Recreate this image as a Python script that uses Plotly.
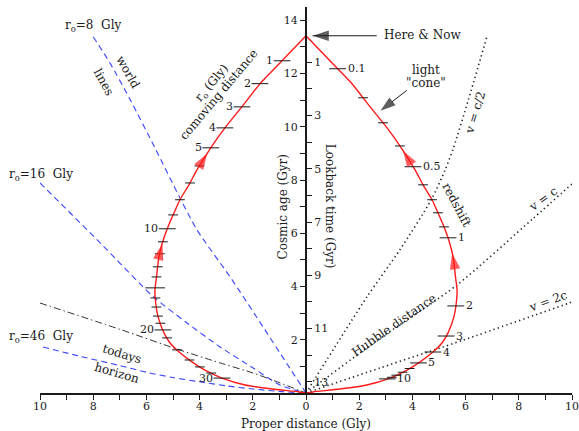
import numpy as np
import plotly.graph_objects as go

NOW_AGE = 13.42  # cosmic age of "Here & Now" (Gyr)

# ---- past light cone: proper distance (Gly) vs cosmic age (Gyr) ----
lc_age = [13.42, 12.48, 11.62, 10.75, 9.96, 9.21, 8.38, 7.82, 7.26, 6.77, 6.24, 5.83,
          5.11, 4.36, 3.87, 3.38, 2.86, 2.26, 1.88, 1.54, 1.17, 0.86, 0.56, 0.30, 0.15, 0.04, 0.0]
lc_dist = [0.0, 0.90, 1.73, 2.41, 3.05, 3.58, 4.10, 4.40, 4.74, 4.96, 5.19, 5.34,
           5.53, 5.62, 5.68, 5.65, 5.56, 5.34, 5.11, 4.77, 4.29, 3.80, 3.16, 2.29, 1.28, 0.26, 0.0]

# redshift ticks (right branch)
z_labels = ["0.1", "0.5", "1", "2", "3", "4", "5", "10"]
z_ages = [12.18, 8.50, 5.83, 3.27, 2.14, 1.54, 1.13, 0.53]
z_minor_ages = [11.09, 10.15, 9.28, 7.82, 7.26, 6.77, 6.24, 0.92, 0.78, 0.67, 0.59]

# comoving distance ticks (left branch)
rc_labels = ["1", "2", "3", "4", "5", "10", "20", "30"]
rc_ages = [12.48, 11.62, 10.75, 9.96, 9.21, 6.17, 2.37, 0.56]
rc_long_ages = [3.95]
rc_minor_ages = [8.53, 7.89, 7.26, 6.69, 5.68, 5.23, 4.74, 4.36, 3.57, 3.23, 2.89, 2.62,
                 2.07, 1.62, 1.24, 0.98, 0.75]

# direction arrows on the light cone (ages of arrow tips)
arrow_ages_right = [9.10, 5.25]
arrow_ages_left = [9.00, 5.60]

# ---- world lines (left, proper distance shown negative side) ----
wl8_dist = [8.0, 7.37, 6.6, 5.68, 4.74, 4.10, 2.86, 1.62, 0.73, 0.0]
wl8_age = [13.38, 12.4, 11.0, 9.21, 7.33, 6.13, 4.37, 2.49, 1.12, 0.0]
wl16_dist = [10.0, 7.74, 5.74, 4.47, 3.23, 1.99, 0.98, 0.0]
wl16_age = [7.89, 5.64, 3.62, 2.63, 1.73, 0.94, 0.30, 0.0]
wl46_dist = [9.89, 8.5, 7.0, 6.0, 5.0, 4.0, 3.0, 2.0, 1.0, 0.0]
wl46_age = [1.73, 1.38, 1.03, 0.78, 0.58, 0.42, 0.27, 0.15, 0.06, 0.0]
hor_dist = [10.0, 6.99, 4.85, 3.23, 1.99, 0.98, 0.0]
hor_age = [3.38, 2.39, 1.65, 1.13, 0.75, 0.38, 0.0]

# ---- recession-velocity lines (right) ----
vc2_dist = [0.0, 2.29, 3.53, 4.72, 5.23, 5.54, 6.10, 6.80]
vc2_age = [0.0, 3.61, 5.38, 7.28, 8.38, 9.20, 11.0, 13.38]
vc_dist = [0.0, 2.78, 5.68, 8.53, 10.04]
vc_age = [0.0, 2.05, 4.06, 6.55, 7.89]
v2c_dist = [0.0, 2.78, 5.92, 9.86, 10.0]
v2c_age = [0.0, 0.94, 1.99, 3.37, 3.42]

# pointer arrows (tail -> tip), data coordinates
here_arrow_x = [2.66, 0.25]
here_arrow_y = [13.42, 13.42]
cone_arrow_x = [3.79, 2.80]
cone_arrow_y = [11.37, 10.60]

# axis ticks
x_major = list(range(-10, 11, 2))
x_minor = list(range(-9, 10, 2))
age_major = list(range(2, 15, 2))
age_minor = list(range(1, 15, 2))
lookback_major = list(range(1, 14, 2))
lookback_minor = list(range(2, 13, 2))

SERIF = "DejaVu Serif"
BLUE = "#3a46ff"
RED = "#ff1a1a"
INK = "#1a1a1a"

fig = go.Figure()


def add_line(xs, ys, color, dash, width, smooth=0.7):
    fig.add_trace(go.Scatter(x=xs, y=ys, mode="lines",
                             line=dict(color=color, dash=dash, width=width,
                                       shape="spline", smoothing=smooth),
                             hoverinfo="skip", showlegend=False))


def add_arrow(xs, ys, color, size, width=0, with_line=False):
    fig.add_trace(go.Scatter(
        x=xs, y=ys, mode="lines+markers" if with_line else "markers", cliponaxis=False,
        line=dict(color=color, width=width if width else 1),
        marker=dict(symbol="arrow", angleref="previous", size=[0, size],
                    color=color, line=dict(width=0)),
        hoverinfo="skip", showlegend=False))


# right side dotted velocity lines
for d, a in [(vc2_dist, vc2_age), (vc_dist, vc_age), (v2c_dist, v2c_age)]:
    add_line(d, a, "#222222", "1.3px,3.2px", 1.6)

# left side world lines
for d, a in [(wl8_dist, wl8_age), (wl16_dist, wl16_age), (wl46_dist, wl46_age)]:
    add_line([-v for v in d], a, BLUE, "6px,4px", 1.1)
add_line([-v for v in hor_dist], hor_age, "#333333", "7px,3px,1.5px,3px", 1.0)

# light cone
add_line(lc_dist, lc_age, RED, "solid", 1.4, 0.5)
add_line([-v for v in lc_dist], lc_age, RED, "solid", 1.4, 0.5)

a_sorted = np.array(lc_age)[::-1]
d_sorted = np.array(lc_dist)[::-1]


def on_curve(ages):
    return np.interp(np.array(ages, dtype=float), a_sorted, d_sorted)


def add_ticks(xs, ys, size):
    fig.add_trace(go.Scatter(x=xs, y=ys, mode="markers", cliponaxis=False,
                             marker=dict(symbol="line-ew", size=size,
                                         line=dict(color=INK, width=1)),
                             hoverinfo="skip", showlegend=False))


add_ticks(on_curve(z_ages), z_ages, 12)
add_ticks(on_curve(z_minor_ages), z_minor_ages, 7)
add_ticks(-on_curve(rc_ages), rc_ages, 12)
add_ticks(-on_curve(rc_long_ages), rc_long_ages, 14)
add_ticks(-on_curve(rc_minor_ages), rc_minor_ages, 7)

# red direction arrowheads along the light cone
for sgn, ages in [(1, arrow_ages_right), (-1, arrow_ages_left)]:
    for a in ages:
        tail = float(on_curve([a - 0.3])[0])
        tip = float(on_curve([a])[0])
        add_arrow([sgn * tail, sgn * tip], [a - 0.3, a], RED, 17)

# black pointer arrows
add_arrow(here_arrow_x, here_arrow_y, INK, 17, width=1, with_line=True)
add_arrow(cone_arrow_x, cone_arrow_y, INK, 16, width=1, with_line=True)

# invisible trace to activate the lookback axis
fig.add_trace(go.Scatter(x=[0], y=[0], yaxis="y2", mode="markers",
                         marker=dict(opacity=0), hoverinfo="skip", showlegend=False))

ann = []


def txt(x, y, s, size=11, angle=0, xanchor="center", xshift=0, yshift=0, xref="x", yref="y"):
    ann.append(dict(x=x, y=y, xref=xref, yref=yref, text=s, showarrow=False,
                    textangle=angle, xanchor=xanchor, yanchor="middle",
                    xshift=xshift, yshift=yshift,
                    font=dict(family=SERIF, size=size, color=INK)))


# tick labels on light cone
for lab, x, y in zip(z_labels, on_curve(z_ages), z_ages):
    txt(x, y, lab, size=11, xanchor="left", xshift=8)
for lab, x, y in zip(rc_labels, -on_curve(rc_ages), rc_ages):
    txt(x, y, lab, size=11, xanchor="right", xshift=-7)

# labels
txt(-8.0, 13.8, "r<sub>o</sub>=8  Gly", size=12)
txt(-9.96, 8.2, "r<sub>o</sub>=16  Gly", size=12)
txt(-9.96, 2.1, "r<sub>o</sub>=46  Gly", size=12)
txt(-10.31, 3.68, "horizon", size=12)
txt(-6.69, 12.07, "world", size=12, angle=61)
txt(-7.62, 11.67, "lines", size=12, angle=61)
txt(-6.92, 1.45, "todays", size=12, angle=17)
txt(-7.1, 0.76, "horizon", size=12, angle=16)
txt(-3.55, 11.62, "r<sub>o</sub> (Gly)", size=12, angle=-50)
txt(-3.26, 11.22, "comoving distance", size=12, angle=-50)
txt(4.38, 13.46, "Here &amp; Now", size=12)
txt(4.51, 12.14, "light", size=12)
txt(4.51, 11.65, "\"cone\"", size=12)
txt(6.35, 10.53, "v = c/2", size=12, angle=-73)
txt(5.67, 7.07, "redshift", size=12, angle=62)
txt(8.92, 7.28, "v = c", size=12, angle=-36)
txt(9.11, 3.45, "v = 2c", size=12, angle=-20)
txt(3.31, 2.56, "Hubble distance", size=12, angle=-35)
txt(-0.87, 7.0, "Cosmic age (Gyr)", size=12, angle=-90)
txt(0.9, 7.0, "Lookback time (Gyr)", size=12, angle=90)
txt(0, -0.081, "Proper distance (Gly)", size=12, yref="paper")

tick_common = dict(ticks="outside", ticklen=5, tickwidth=1, tickcolor=INK,
                   showgrid=False, zeroline=False, automargin=False,
                   tickfont=dict(family=SERIF, size=11, color=INK))

fig.update_layout(
    template="none",
    width=579, height=431,
    margin=dict(l=40, r=7, t=7, b=38, autoexpand=False),
    plot_bgcolor="white", paper_bgcolor="white",
    font=dict(family=SERIF, size=11, color=INK),
    showlegend=False,
    annotations=ann,
    xaxis=dict(range=[-10, 10], tickmode="array", tickvals=x_major,
               ticktext=[str(abs(v)) for v in x_major], ticklabelstandoff=-3,
               minor=dict(tickvals=x_minor, ticks="outside", ticklen=5, tickcolor=INK, showgrid=False),
               showline=True, linecolor=INK, linewidth=2, **tick_common),
    yaxis=dict(range=[0, 14.5], anchor="free", position=0.5, side="left",
               tickmode="array", tickvals=age_major, ticktext=[str(v) for v in age_major],
               minor=dict(tickvals=age_minor, ticks="outside", ticklen=5, tickcolor=INK, showgrid=False),
               showline=True, linecolor=INK, linewidth=2, **tick_common),
    yaxis2=dict(range=[0, 14.5], anchor="free", position=0.5, side="right",
                overlaying="y", tickmode="array",
                tickvals=[NOW_AGE - lb for lb in lookback_major],
                ticktext=[str(lb) for lb in lookback_major],
                minor=dict(tickvals=[NOW_AGE - lb for lb in lookback_minor], ticks="outside",
                           ticklen=5, tickcolor=INK, showgrid=False),
                showline=False, **tick_common),
)

fig.write_html("out.html", config={"displayModeBar": False},
               post_script="document.body.style.margin='0';document.body.style.overflow='hidden';")
